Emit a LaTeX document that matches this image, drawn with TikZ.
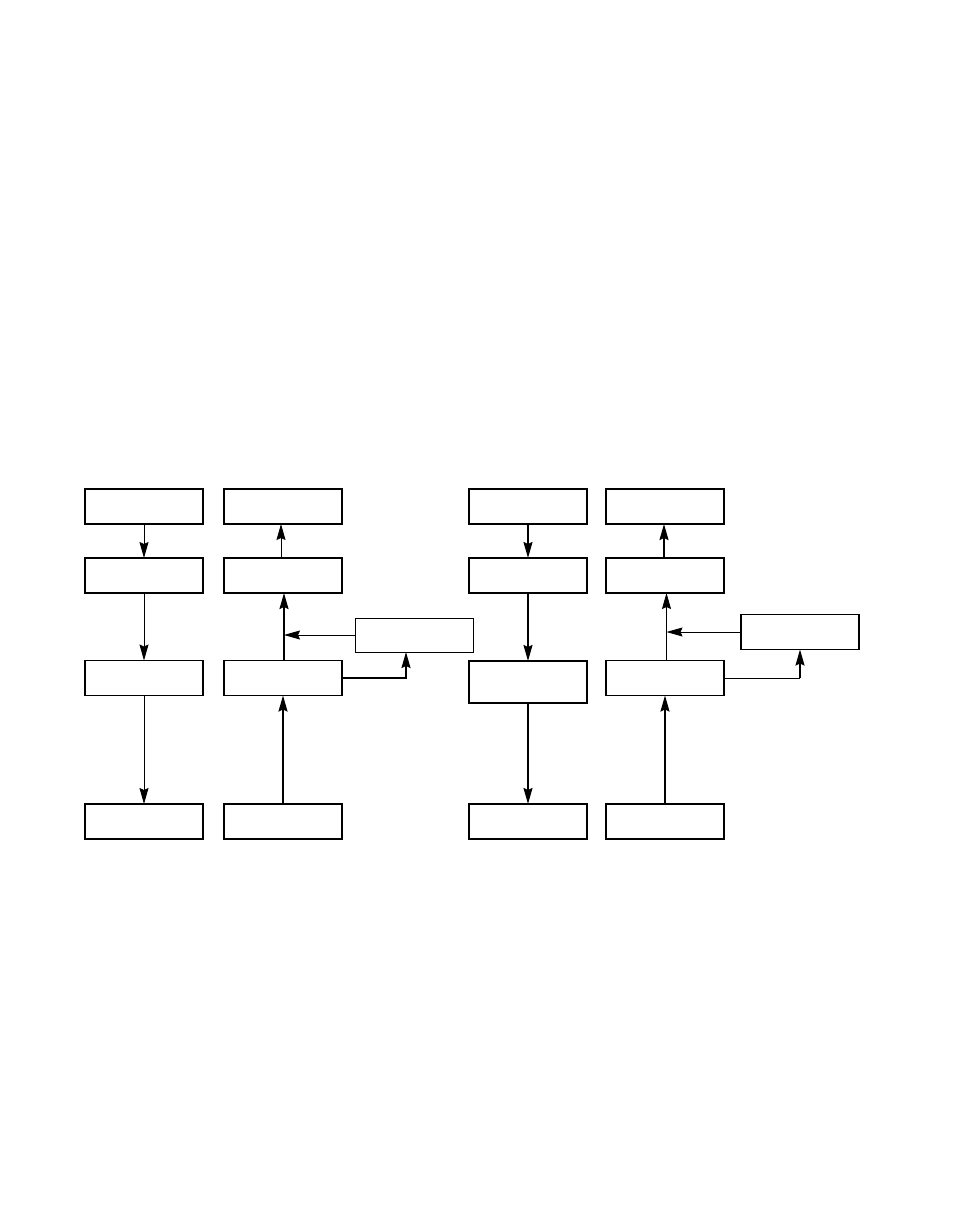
\documentclass[tikz,border=0pt]{standalone}
\usetikzlibrary{arrows.meta}
\begin{document}
\begin{tikzpicture}[x=1pt,y=-1pt,
  box/.style={draw,line width=1.4pt,minimum width=118pt,minimum height=35pt,inner sep=0pt,outer sep=0pt},
  thinbox/.style={box,line width=0.9pt,minimum height=34pt},
  tall/.style={minimum height=42pt},
  tip/.style={-{Stealth[length=16pt,width=9pt,inset=2pt]}},
  thinarr/.style={line width=0.8pt,tip},
  thickarr/.style={line width=1.6pt,tip},
  thinline/.style={line width=0.8pt},
  thickline/.style={line width=1.6pt}]
\useasboundingbox (0,0) rectangle (954,1227);
% left group
\node[box] (A1) at (144,506.5) {};
\node[box] (A2) at (144,575.5) {};
\node[box] (A3) at (144,678) {};
\node[box] (A4) at (144,821.5) {};
\node[box] (B1) at (283,506.5) {};
\node[box] (B2) at (283,575.5) {};
\node[box] (B3) at (283,678) {};
\node[box] (B4) at (283,821.5) {};
\node[thinbox] (SL) at (414,635) {};
% right group
\node[box] (C1) at (528,506.5) {};
\node[box] (C2) at (528,575.5) {};
\node[box,tall] (C3) at (528,682) {};
\node[box] (C4) at (528,821.5) {};
\node[box] (D1) at (665,506.5) {};
\node[box] (D2) at (665,575.5) {};
\node[box] (D3) at (665,678) {};
\node[box] (D4) at (665,821.5) {};
\node[box] (SR) at (800,632) {};
% left connectors
\draw[thinarr] (A1) -- (A2);
\draw[thinarr] (A2) -- (A3);
\draw[thinarr] (A3) -- (A4);
\draw[thinarr] ([xshift=-2pt]B2.north) -- ([xshift=-2pt]B1.south);
\draw[thickarr] ([xshift=1pt]B3.north) -- ([xshift=1pt]B2.south);
\draw[thickarr] (B4) -- (B3);
\coordinate (jl) at ([xshift=1pt]SL.west -| B3.north);
\draw[thinarr] (SL.west) -- (jl);
\draw[thickarr] (B3.east) -| ([xshift=-8pt]SL.south);
% right connectors
\draw[thickarr] (C1) -- (C2);
\draw[thickarr] (C2) -- (C3);
\draw[thickarr] (C3) -- (C4);
\draw[thickarr] ([xshift=-1pt]D2.north) -- ([xshift=-1pt]D1.south);
\draw[thinarr] ([xshift=1.5pt]D3.north) -- ([xshift=1.5pt]D2.south);
\draw[thickarr] (D4) -- (D3);
\coordinate (jr) at ([xshift=1.5pt]SR.west -| D3.north);
\draw[thinarr] (SR.west) -- (jr);
\coordinate (kr) at (D3.east -| SR.south);
\draw[thinline] (D3.east) -- (kr);
\draw[thickarr] (kr) -- (SR.south);
\end{tikzpicture}
\end{document}
